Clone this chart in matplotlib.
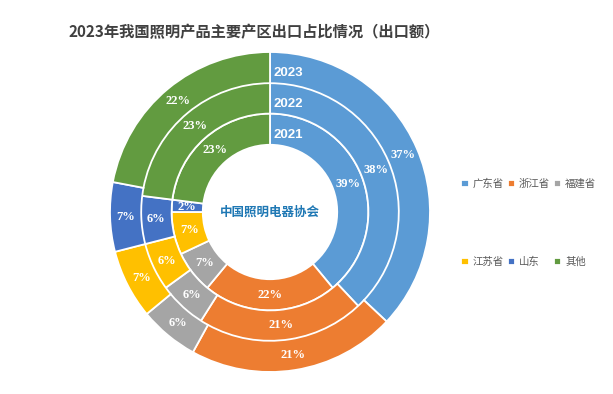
import numpy as np
import matplotlib.pyplot as plt

plt.rcParams['font.family'] = ['Noto Sans CJK SC', 'DejaVu Sans']

regions = ['广东省', '浙江省', '福建省', '江苏省', '山东', '其他']
colors = ['#5B9BD5', '#ED7D31', '#A5A5A5', '#FFC000', '#4472C4', '#629B40']
years = ['2021', '2022', '2023']
share_2021 = [39, 22, 7, 7, 2, 23]
share_2022 = [38, 21, 6, 6, 6, 23]
share_2023 = [37, 21, 6, 7, 7, 22]

fig = plt.figure(figsize=(6.13, 3.94), dpi=100)
fig.text(0.415, 0.918, '2023年我国照明产品主要产区出口占比情况（出口额）',
         ha='center', va='center', fontsize=11, fontweight='bold', color='#404040')

# donut centre at roughly (270, 212) px
ax = fig.add_axes([100 / 613, 12 / 394, 340 / 613, 340 / 394])

width = 0.195
rings = [(share_2021, 0.615), (share_2022, 0.81), (share_2023, 1.0)]
wedges = None
for vals, r in rings:
    w, _ = ax.pie(vals, radius=r, colors=colors, startangle=90, counterclock=False,
                  wedgeprops=dict(width=width, edgecolor='white', linewidth=1.3))
    if wedges is None:
        wedges = w
    total = sum(vals)
    cum = 0
    rm = r - width / 2
    for v in vals:
        ang = np.deg2rad(90 - 360 * (cum + v / 2) / total)
        cum += v
        ax.text(rm * np.cos(ang), rm * np.sin(ang), f'{v}%', ha='center', va='center',
                fontsize=9, fontweight='bold', color='white', family='Liberation Serif')

for yr, (vals, r) in zip(years, rings):
    ax.text(0.025, r - width / 2 - 0.035, yr, ha='left', va='center', fontsize=9.5,
            fontweight='bold', color='white', family='Liberation Sans')

ax.text(0.0, 0.0, '中国照明电器协会', ha='center', va='center', fontsize=9,
        color='#1F78B4', fontweight='bold')

ax.set_xlim(-1.0625, 1.0625)
ax.set_ylim(-1.0625, 1.0625)
ax.set_aspect('equal')
ax.axis('off')

order = [0, 3, 1, 4, 2, 5]
leg = fig.legend([wedges[i] for i in order], [regions[i] for i in order],
                 loc='center left', bbox_to_anchor=(452 / 613, 1 - 223 / 394), ncol=3,
                 frameon=False, fontsize=7.5, labelspacing=6.5, handlelength=0.7,
                 handleheight=0.7, handletextpad=0.4, columnspacing=0.35)
for t in leg.get_texts():
    t.set_color('#595959')

fig.savefig('out.png', dpi=100)
